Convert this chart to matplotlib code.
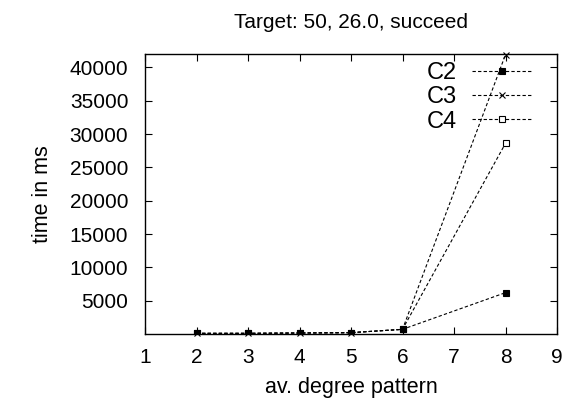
import matplotlib
matplotlib.use('Agg')
import matplotlib.pyplot as plt

plt.rcParams['font.family'] = ['Liberation Sans', 'DejaVu Sans']

# Données
degrees = [2, 3, 4, 5, 6, 8]
c2 = [100, 100, 150, 200, 700, 6200]
c3 = [100, 100, 150, 200, 700, 41900]
c4 = [100, 100, 150, 200, 700, 28600]

fig = plt.figure(figsize=(5.73, 4.09), dpi=100)
ax = fig.add_axes([145 / 573, 1 - 334 / 409, 412 / 573, 280 / 409])

ax.plot(degrees, c3, color='black', linestyle='--', dashes=(3, 2), linewidth=0.8,
        marker='x', markersize=5, markeredgewidth=0.8, label='C3', zorder=2, clip_on=False)
ax.plot(degrees, c4, color='black', linestyle='--', dashes=(3, 2), linewidth=0.8,
        marker='s', markersize=5, markerfacecolor='white', markeredgewidth=0.8, label='C4', zorder=2)
ax.plot(degrees, c2, color='black', linestyle='--', dashes=(3, 2), linewidth=0.8,
        marker='s', markersize=5, markeredgewidth=0.8, label='C2', zorder=3)

ax.set_xlim(1, 9)
ax.set_ylim(0, 42000)
ax.set_xticks(range(1, 10))
ax.set_yticks(range(5000, 40001, 5000))
ax.tick_params(direction='in', top=True, right=True, labelsize=15, length=5)
ax.tick_params(axis='y', pad=12)
ax.tick_params(axis='x', pad=10)
for s in ax.spines.values():
    s.set_linewidth(1.0)

ax.set_xlabel('av. degree pattern', fontsize=15.5, labelpad=7)
ax.set_ylabel('time in ms', fontsize=15.5, labelpad=12)
fig.text(351 / 573, 1 - 22 / 409, 'Target: 50, 26.0, succeed', ha='center', va='center', fontsize=15)

h, l = ax.get_legend_handles_labels()
order = [2, 0, 1]
ax.legend([h[i] for i in order], [l[i] for i in order], loc='upper right',
          bbox_to_anchor=(533 / 573, 1 - 62 / 409), bbox_transform=fig.transFigure,
          frameon=False, markerfirst=False, borderpad=0, borderaxespad=0,
          handlelength=2.6, numpoints=1, fontsize=17, labelspacing=0.1,
          handletextpad=0.63)

plt.savefig('out.png')
plt.close()
